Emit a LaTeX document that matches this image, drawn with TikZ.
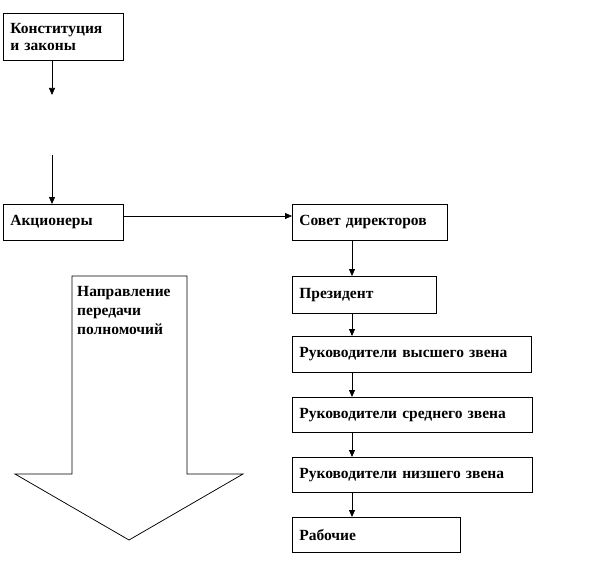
\documentclass[tikz,border=0pt]{standalone}
\usepackage{fontspec}
\setmainfont{Liberation Serif}
\usetikzlibrary{arrows.meta}
\begin{document}
\begin{tikzpicture}[x=1pt,y=-1pt,
  box/.style={draw, line width=0.75pt, inner xsep=7pt, inner ysep=0pt, align=left,
    font=\bfseries\fontsize{15.5}{16.5}\selectfont, anchor=north west},
  conn/.style={line width=0.75pt, -{Triangle[width=6pt,length=7pt]}}]
\useasboundingbox (0,0) rectangle (615,564);
\node[box, minimum width=120pt, minimum height=47pt, text width=106pt] (konst) at (3,13) {Конституция\\и законы};
\node[box, minimum width=120pt, minimum height=36pt, text width=106pt] (akc) at (3,204) {Акционеры};
\node[box, minimum width=155pt, minimum height=36pt, text width=141pt] (sovet) at (292,204) {Совет директоров};
\node[box, minimum width=144pt, minimum height=37pt, text width=130pt] (pres) at (292,276) {Президент};
\node[box, minimum width=239pt, minimum height=36pt, text width=225pt] (vys) at (292,336) {Руководители высшего звена};
\node[box, minimum width=240pt, minimum height=35pt, text width=226pt] (sred) at (292,397) {Руководители среднего звена};
\node[box, minimum width=240pt, minimum height=35pt, text width=226pt] (niz) at (292,457) {Руководители низшего звена};
\node[box, minimum width=168pt, minimum height=35pt, text width=154pt] (rab) at (292,517) {Рабочие};
\coordinate (e1) at (52,95);
\coordinate (s2) at (52,155);
\draw[conn] (konst.south -| e1) -- (e1);
\draw[conn] (s2) -- (akc.north -| s2);
\draw[conn] (akc.east |- 0,216) -- (sovet.west |- 0,216);
\draw[conn] (sovet.south -| 352,0) -- (pres.north -| 352,0);
\draw[conn] (pres.south -| 352,0) -- (vys.north -| 352,0);
\draw[conn] (vys.south -| 352,0) -- (sred.north -| 352,0);
\draw[conn] (sred.south -| 352,0) -- (niz.north -| 352,0);
\draw[conn] (niz.south -| 352,0) -- (rab.north -| 352,0);
\draw[line width=0.75pt] (72,276) -- (187,276) -- (187,474) -- (243,474) -- (129,540) -- (15,474) -- (72,474) -- cycle;
\node[anchor=north west, inner sep=0pt, align=left, font=\bfseries\fontsize{15.5}{19}\selectfont] (napr) at (77,286) {Направление\\передачи\\полномочий};
\end{tikzpicture}
\end{document}
